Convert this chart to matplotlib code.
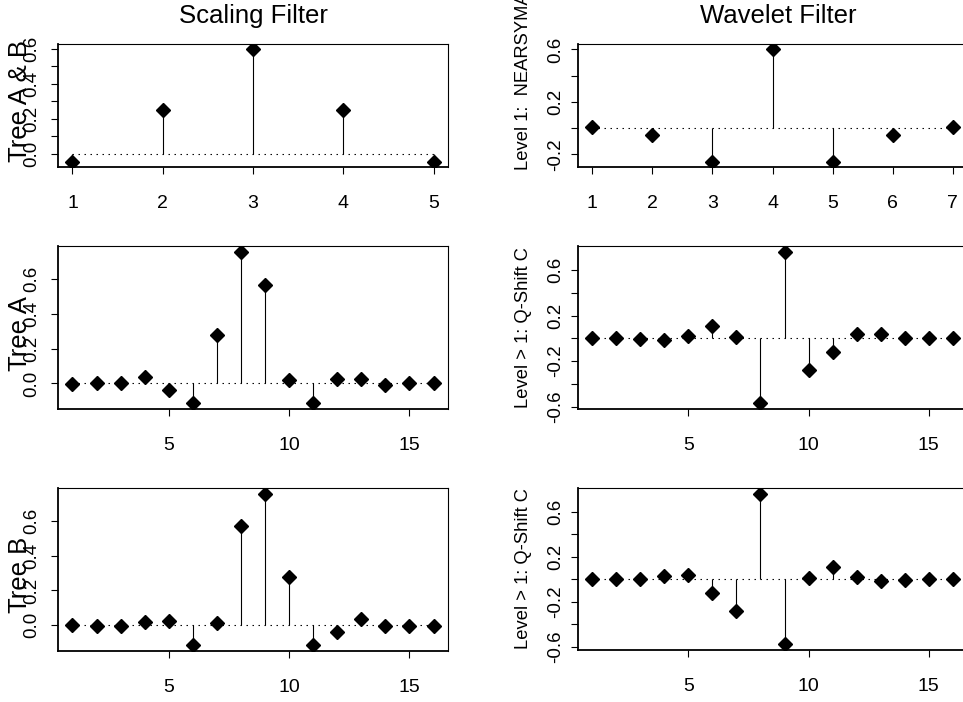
import matplotlib
matplotlib.use("Agg")
import matplotlib.pyplot as plt
import numpy as np

plt.rcParams['font.family'] = ['Liberation Sans', 'DejaVu Sans']

W, H = 963, 702

# level 1 near-symmetric filters
scale_l1 = [-0.05, 0.25, 0.6, 0.25, -0.05]
wave_l1 = [0.0107, -0.0536, -0.2607, 0.6071, -0.2607, -0.0536, 0.0107]

# level > 1 q-shift filters
scale_a = [-0.004, 0.001, 0.001, 0.038, -0.038, -0.112, 0.277, 0.756,
	0.567, 0.019, -0.11, 0.028, 0.024, -0.006, 0.0, 0.004]
wave_a = [0.0, 0.0, -0.004, -0.018, 0.02, 0.11, 0.012, -0.566,
	0.756, -0.279, -0.12, 0.038, 0.035, 0.0, 0.0, 0.004]
scale_b = [0.0, -0.002, -0.006, 0.019, 0.023, -0.112, 0.015, 0.569,
	0.754, 0.277, -0.113, -0.037, 0.038, -0.002, -0.002, -0.006]
wave_b = [0.0, 0.0, -0.003, 0.032, 0.035, -0.12, -0.282, 0.756,
	-0.576, 0.012, 0.109, 0.018, -0.018, -0.006, 0.0, 0.0]

titles = ["Scaling Filter", "Wavelet Filter"]
left_labels = ["Tree A & B", "Tree A", "Tree B"]
right_labels = ["Level 1:  NEARSYMA", "Level > 1: Q-Shift C", "Level > 1: Q-Shift C"]

# panel boxes in pixels: left, right, top, bottom
boxes = [
	[(58, 448, 44, 167), (578, 967, 44, 167)],
	[(58, 448, 246, 409), (578, 967, 246, 409)],
	[(58, 448, 488, 651), (578, 967, 488, 650)],
]
# vertical nudge of the left labels, pixels
left_shift = [-4, 6, 5]

def pos(l, r, t, b):
	return [l/W, 1-b/H, (r-l)/W, (b-t)/H]

def stem(ax, vals, xticks, yticks, ylabs, col):
	y = np.array(vals)
	x = np.arange(1, len(y)+1)
	ax.vlines(x, 0, y, color='k', lw=0.8)
	ax.plot(x[[0, -1]], [0, 0], color='k', lw=0.8, ls=(0, (1.3, 4.1)))
	ax.plot(x, y, 'D', color='k', ms=7.5)
	# R style 4% range extension
	dx = 0.04*(x[-1]-x[0])
	ax.set_xlim(x[0]-dx, x[-1]+dx)
	dy = 0.04*(y.max()-y.min())
	ax.set_ylim(y.min()-dy, y.max()+dy)
	ax.set_xticks(xticks)
	ax.set_xticklabels([str(v) for v in xticks])
	ax.set_yticks(yticks)
	ax.set_yticklabels(ylabs)
	plt.setp(ax.get_yticklabels(), rotation=90, va='center')
	ax.tick_params(axis='x', direction='out', length=5, width=0.8, labelsize=14, pad=15)
	ax.tick_params(axis='y', direction='out', length=5, width=0.8, labelsize=13.5,
		pad=(8 if col == 0 else 5))
	for s in ['top', 'right']:
		ax.spines[s].set_linewidth(0.8)
	for s in ['left', 'bottom']:
		ax.spines[s].set_linewidth(1.3)

fig = plt.figure(figsize=(W/100, H/100), dpi=100)

panels = [
	[scale_l1, wave_l1],
	[scale_a, wave_a],
	[scale_b, wave_b],
]

for r in range(3):
	for c in range(2):
		ax = fig.add_axes(pos(*boxes[r][c]))
		vals = panels[r][c]
		if r == 0:
			xt = list(range(1, len(vals)+1))
		else:
			xt = [5, 10, 15]
		if c == 0:
			if r == 0:
				yt = [0.0, 0.1, 0.2, 0.3, 0.4, 0.5, 0.6]
				yl = ["0.0", "", "0.2", "", "0.4", "", "0.6"]
			else:
				yt = [0.0, 0.2, 0.4, 0.6]
				yl = ["0.0", "0.2", "0.4", "0.6"]
		else:
			if r == 0:
				yt = [-0.2, 0.0, 0.2, 0.4, 0.6]
				yl = ["-0.2", "", "0.2", "", "0.6"]
			else:
				yt = [-0.6, -0.4, -0.2, 0.0, 0.2, 0.4, 0.6]
				yl = ["-0.6", "", "-0.2", "", "0.2", "", "0.6"]
		stem(ax, vals, xt, yt, yl, c)

		l, rr, t, b = boxes[r][c]
		if c == 0:
			yc = 1 - ((t+b)/2 + left_shift[r])/H
			fig.text(27/W, yc, left_labels[r], rotation=90, rotation_mode='anchor',
				ha='center', va='baseline', fontsize=18.5)
		elif r == 0:
			# this label starts low in the reference and runs off the top
			fig.text(528/W, 1-170/H, right_labels[r], rotation=90, rotation_mode='anchor',
				ha='left', va='baseline', fontsize=13.2)
		else:
			fig.text(528/W, 1-(t+b)/2/H, right_labels[r], rotation=90, rotation_mode='anchor',
				ha='center', va='baseline', fontsize=13.2)
		if r == 0:
			fig.text((l+rr)/2/W + (6/W if c == 1 else 0), 1-23/H, titles[c],
				ha='center', va='baseline', fontsize=18.5)

fig.savefig("out.png", dpi=100)
